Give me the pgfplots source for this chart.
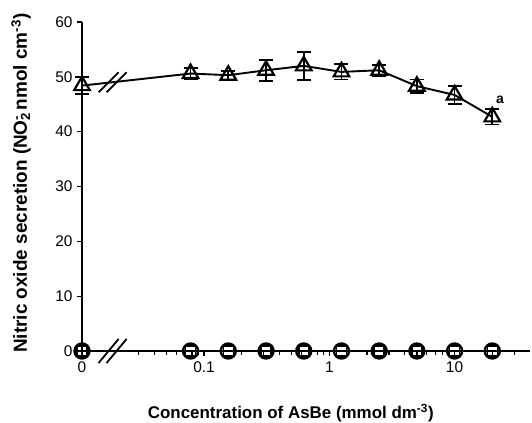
\documentclass[border=0pt]{standalone}
\usepackage{pgfplots}
\pgfplotsset{compat=1.18}
\usepackage{pgfplotstable}
\usepackage{fontspec}
\setmainfont{Liberation Sans}

% x = 0 is drawn at 0.0106 on the log axis (broken axis)
\pgfplotstableread{
x       y     err
0.0106  48.4  1.5
0.078   50.6  1.0
0.156   50.3  0.8
0.3125  51.2  1.9
0.625   52.0  2.6
1.25    50.9  1.4
2.5     51.2  1.0
5       48.3  1.2
10      46.7  1.6
20      42.7  1.4
}\tri

\pgfplotstableread{
x       y
0.0106  0
0.078   0
0.156   0
0.3125  0
0.625   0
1.25    0
2.5     0
5       0
10      0
20      0
}\zero

\begin{document}
\begin{tikzpicture}
\path[use as bounding box] (-82bp,-72bp) rectangle (450bp,351bp);
\begin{axis}[
  scale only axis,
  width=448bp, height=329bp,
  xmode=log,
  xmin=0.0106, xmax=40,
  ymin=0, ymax=60,
  axis lines*=left,
  axis line style={line width=1.6bp},
  clip=false,
  xtick={0.0106,0.1,1,10},
  xticklabels={0,0.1,1,10},
  minor xtick={0.03,0.04,0.05,0.06,0.07,0.08,0.09,0.2,0.3,0.4,0.5,0.6,0.7,0.8,0.9,2,3,4,5,6,7,8,9,20,30},
  ytick={0,10,...,60},
  tick align=outside,
  major tick length=5bp, minor tick length=4bp,
  every tick/.style={black, line width=1.3bp},
  /pgf/number format/assume math mode=true,
  every tick label/.append style={font=\fontsize{15.5}{17}\selectfont},
  xticklabel style={yshift=-2bp},
  yticklabel style={xshift=-1bp},
  xlabel={Concentration of AsBe (mmol dm\textsuperscript{-3})},
  ylabel={Nitric oxide secretion (NO\rlap{\textsubscript{2}}\textsuperscript{-}\ nmol cm\textsuperscript{-3})},
  xlabel style={font=\bfseries\fontsize{17}{19}\selectfont,
    at={(axis description cs:0.466,0)}, anchor=center, yshift=-62bp},
  ylabel style={font=\bfseries\fontsize{19}{21}\selectfont,
    at={(axis description cs:0,0.51)}, anchor=center, yshift=61bp},
]
% circles and squares (near zero)
\addplot[black, line width=2.4bp, mark=o, mark size=7.5bp,
  mark options={line width=2.4bp, fill=white}] table[x=x, y=y] {\zero};
\addplot[black, only marks, mark=square, mark size=5bp,
  mark options={line width=1.5bp}] table[x=x, y=y] {\zero};
% triangles with error bars
\addplot[black, line width=1.9bp, mark=triangle, mark size=9bp,
  mark options={line width=2.2bp, fill=white},
  error bars/.cd, y dir=both, y explicit,
  error bar style={line width=1.8bp},
  error mark options={rotate=90, mark size=7bp, line width=1.8bp}]
  table[x=x, y=y, y error=err] {\tri};
% axis break marks
\draw[line width=1.8bp] ([xshift=-14bp, yshift=-12bp]axis cs:0.0186,0) -- ([xshift=6bp, yshift=12bp]axis cs:0.0186,0);
\draw[line width=1.8bp] ([xshift=-6bp, yshift=-12bp]axis cs:0.0186,0) -- ([xshift=14bp, yshift=12bp]axis cs:0.0186,0);
\draw[line width=1.8bp] ([xshift=-14bp, yshift=-10bp]axis cs:0.0186,49) -- ([xshift=6bp, yshift=10bp]axis cs:0.0186,49);
\draw[line width=1.8bp] ([xshift=-6bp, yshift=-10bp]axis cs:0.0186,49) -- ([xshift=14bp, yshift=10bp]axis cs:0.0186,49);
\node[font=\bfseries\fontsize{14}{16}\selectfont] at (axis cs:23,45.8) {a};
\end{axis}
\end{tikzpicture}
\end{document}
